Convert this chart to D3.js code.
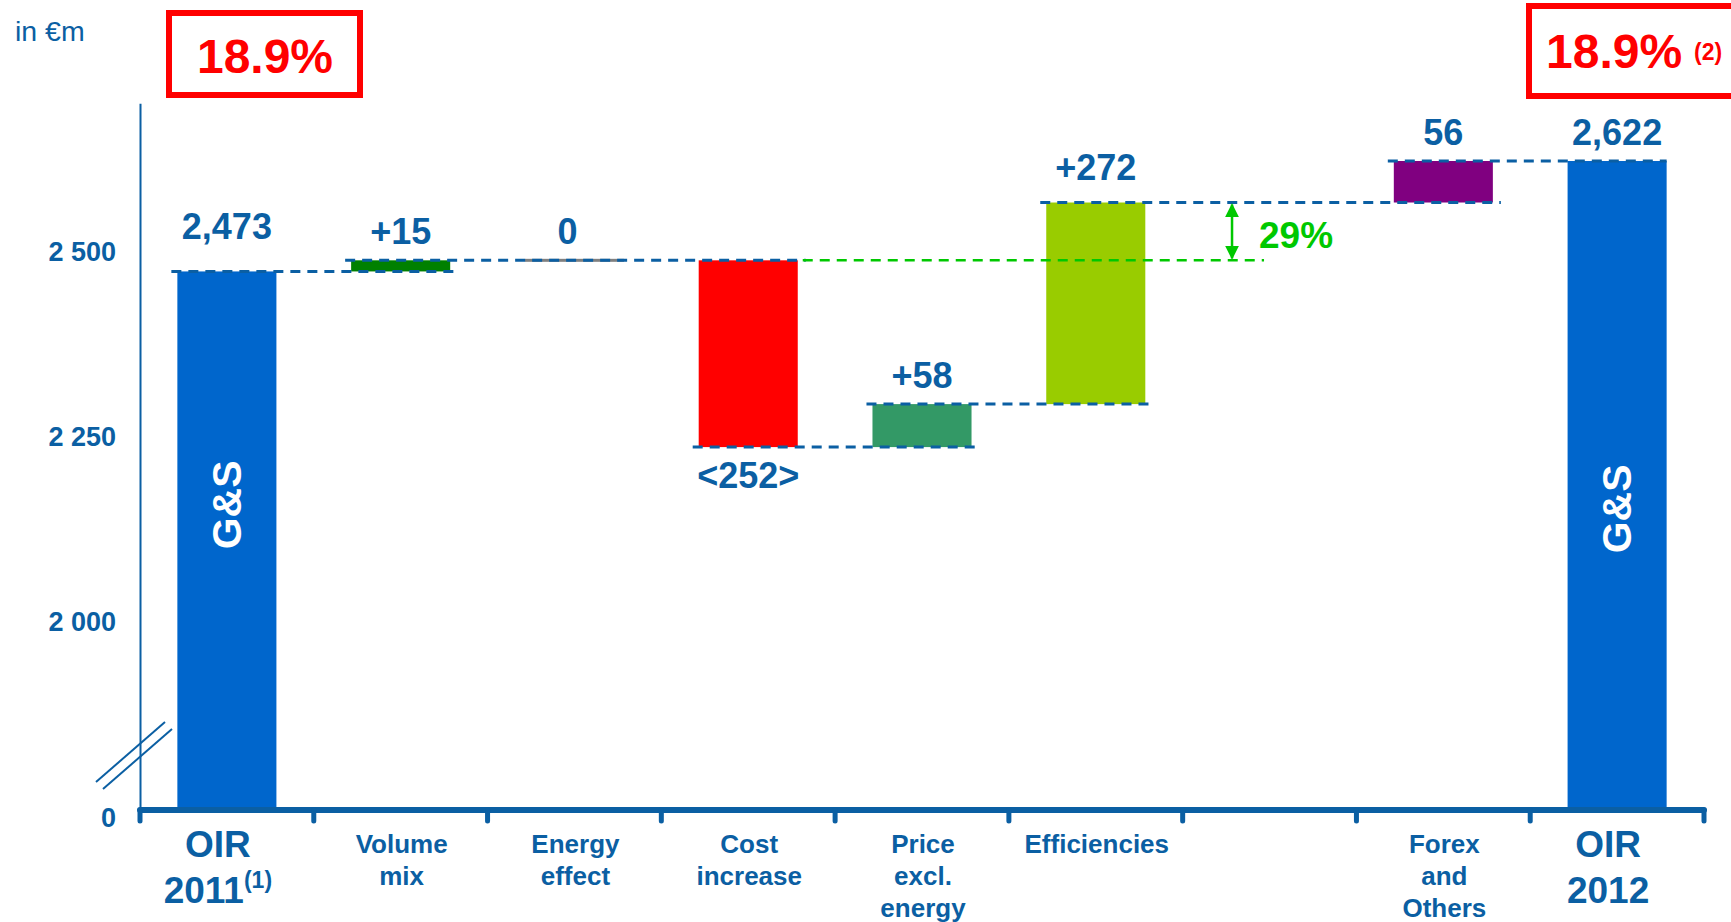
<!DOCTYPE html>
<html><head><meta charset="utf-8">
<script src="https://cdn.jsdelivr.net/npm/d3@7"></script>
<style>
body{margin:0;background:#fff;}
text{font-family:"Liberation Sans",Arial,Helvetica,sans-serif;}
</style>
</head><body>
<svg id="c" width="1731" height="922"></svg>
<script>
// ---------- data ----------
const categories = ["OIR 2011","Volume mix","Energy effect","Cost increase","Price excl. energy","Efficiencies","blank","Forex and Others","OIR 2012"];
const categoryLines = [["OIR","2011"],["Volume","mix"],["Energy","effect"],["Cost","increase"],["Price","excl.","energy"],["Efficiencies"],[],["Forex","and","Others"],["OIR","2012"]];
const barKinds = ["total","delta","delta","delta","delta","delta","blank","delta","total"];
const values = [2473, 15, 0, -252, 58, 272, null, 56, 2622];
const valueLabels = ["2,473","+15","0","<252>","+58","+272","","56","2,622"];
const totalBarText = "G&S";
const yTickValues = [0, 2000, 2250, 2500];
const yTickLabels = ["0","2 000","2 250","2 500"];
const unitLabel = "in €m";
const marginLeft = "18.9%";
const marginRight = "18.9%";
const marginRightNote = "(2)";
const firstNote = "(1)";
const efficiencyShare = "29%";

// ---------- styles ----------
const barColors = ["#0066CC","#008000","#808080","#FF0000","#339966","#99CC00",null,"#800080","#0066CC"];
const BLUE = "#0B5FA3";
const RED = "#FF0000";
const GREEN = "#00C800";

const svg = d3.select("#c");

// scales
const x = d3.scaleBand().domain(categories).range([140, 1704]).paddingInner(0.43).paddingOuter(0.215);
const bw = x.bandwidth();
const step = x.step();
const y = d3.scaleLinear().domain([0, 2000, 2700]).range([810, 622, 103.2]);

// waterfall
let cum = 0;
const bars = categories.map((c, i) => {
  const k = barKinds[i];
  if (k === "total") { cum = values[i]; return {c, i, k, lo: 0, hi: values[i], end: values[i]}; }
  if (k === "delta") { const s = cum; cum = cum + values[i]; return {c, i, k, lo: Math.min(s, cum), hi: Math.max(s, cum), start: s, end: cum}; }
  return {c, i, k};
});
const real = bars.filter(b => b.k !== "blank");

// bars
svg.append("g").selectAll("rect").data(real).join("rect")
  .attr("x", d => x(d.c))
  .attr("width", bw)
  .attr("y", d => d.hi === d.lo ? y(d.hi) - 1.5 : y(d.hi))
  .attr("height", d => d.hi === d.lo ? 3 : y(d.lo) - y(d.hi))
  .attr("fill", d => barColors[d.i]);

// G&S text on totals
const gsY = y(2158);
svg.append("g").selectAll("text").data(real.filter(d => d.k === "total")).join("text")
  .attr("transform", d => `translate(${x(d.c) + bw/2},${gsY + (d.i === 0 ? 0 : 4)}) rotate(-90)`)
  .attr("text-anchor", "middle").attr("dominant-baseline", "central")
  .attr("fill", "#fff").attr("font-weight", "bold").attr("font-size", 41)
  .text(totalBarText);

// connectors (merge consecutive same level)
const conns = [];
for (let a = 0; a < real.length - 1; a++) {
  const b = real[a], n = real[a + 1];
  const x1 = x(b.c) - 6;
  const x2 = x(n.c) + bw + (a + 1 === real.length - 1 ? 0 : 8);
  const last = conns[conns.length - 1];
  if (last && last.v === b.end) { last.x2 = x2; } else { conns.push({v: b.end, x1, x2}); }
}
svg.append("g").selectAll("line").data(conns).join("line")
  .attr("x1", d => d.x1).attr("x2", d => d.x2)
  .attr("y1", d => y(d.v)).attr("y2", d => y(d.v))
  .attr("stroke", BLUE).attr("stroke-width", 3).attr("stroke-dasharray", "10,7");

// green reference line and arrow
const ref = bars[3].start;     // level before cost increase
const effTop = bars[5].end;
const arrowX = x("blank") + 12;
svg.append("line")
  .attr("x1", x("Cost increase") + bw + 5).attr("x2", arrowX + 32)
  .attr("y1", y(ref)).attr("y2", y(ref))
  .attr("stroke", GREEN).attr("stroke-width", 2.5).attr("stroke-dasharray", "10,7");
const defs = svg.append("defs");
defs.append("marker").attr("id", "ah").attr("viewBox", "0 0 10 10").attr("refX", 9).attr("refY", 5)
  .attr("markerWidth", 5.5).attr("markerHeight", 5.5).attr("orient", "auto-start-reverse")
  .attr("markerUnits", "strokeWidth")
  .append("path").attr("d", "M0,0 L10,5 L0,10 Z").attr("fill", GREEN);
svg.append("line")
  .attr("x1", arrowX).attr("x2", arrowX)
  .attr("y1", y(effTop) + 2).attr("y2", y(ref) - 2)
  .attr("stroke", GREEN).attr("stroke-width", 2.5)
  .attr("marker-start", "url(#ah)").attr("marker-end", "url(#ah)");
svg.append("text").attr("x", arrowX + 27).attr("y", (y(effTop) + y(ref)) / 2 + 17)
  .attr("fill", GREEN).attr("font-weight", "bold").attr("font-size", 37).text(efficiencyShare);

// value labels
const labelDy = {0: -32, 5: -23};
svg.append("g").selectAll("text").data(real).join("text")
  .attr("x", d => x(d.c) + bw/2 + (d.i === 2 ? -7 : 0))
  .attr("y", d => (d.k === "delta" && values[d.i] < 0) ? y(d.lo) + 41 : y(d.hi) + (labelDy[d.i] !== undefined ? labelDy[d.i] : -16))
  .attr("text-anchor", "middle").attr("fill", BLUE).attr("font-weight", "bold").attr("font-size", 36)
  .text(d => valueLabels[d.i]);

// y axis
const yAxis = d3.axisLeft(y).tickValues(yTickValues).tickFormat((d, i) => yTickLabels[i]).tickSize(0).tickPadding(24);
const gy = svg.append("g").attr("transform", "translate(140,0)").call(yAxis);
gy.select(".domain").attr("stroke", BLUE).attr("stroke-width", 2);
gy.selectAll(".tick text").attr("fill", BLUE).attr("font-weight", "bold").attr("font-size", 27)
  .attr("font-family", '"Liberation Sans",Arial,sans-serif')
  .attr("dy", d => d === 0 ? "0.6em" : "0.32em");

// axis break
const brk = svg.append("g").attr("stroke", BLUE).attr("stroke-width", 2);
[[0, 0], [7, 7]].forEach(([dx, dy]) => {
  brk.append("line").attr("x1", 96 + dx).attr("y1", y(0) - 28 + dy).attr("x2", 165 + dx).attr("y2", y(0) - 88 + dy);
});

// x axis
const bounds = categories.map(c => x(c) - (step - bw) / 2).concat([x(categories[categories.length - 1]) + bw + (step - bw) / 2]);
const gx = svg.append("g").attr("stroke", BLUE).attr("stroke-linecap", "round");
gx.append("line").attr("x1", bounds[0]).attr("x2", bounds[bounds.length - 1]).attr("y1", y(0)).attr("y2", y(0)).attr("stroke-width", 6);
gx.selectAll("line.t").data(bounds).join("line").attr("class", "t")
  .attr("x1", d => d).attr("x2", d => d).attr("y1", y(0)).attr("y2", y(0) + 11).attr("stroke-width", 5);

// category labels
categories.forEach((c, i) => {
  const lines = categoryLines[i];
  if (!lines.length) return;
  const big = barKinds[i] === "total";
  const cx = x(c) + bw/2 + (big ? -9 : 1);
  const t = svg.append("text")
    .attr("x", cx).attr("y", big ? 857 : 853)
    .attr("text-anchor", "middle").attr("fill", BLUE).attr("font-weight", "bold").attr("font-size", big ? 37 : 26);
  lines.forEach((l, k) => {
    t.append("tspan").attr("x", cx).attr("dy", k === 0 ? 0 : (big ? 46 : 32)).text(l);
    if (i === 0 && k === 1) {
      t.append("tspan").attr("font-size", 23).attr("dy", -15).text(firstNote);
    }
  });
});

// unit label
svg.append("text").attr("x", 15).attr("y", 41).attr("fill", BLUE).attr("font-size", 28.5).text(unitLabel);

// margin boxes
svg.append("rect").attr("x", 169).attr("y", 13).attr("width", 191).attr("height", 82)
  .attr("fill", "none").attr("stroke", RED).attr("stroke-width", 6);
svg.append("text").attr("x", 265).attr("y", 73).attr("text-anchor", "middle")
  .attr("fill", RED).attr("font-weight", "bold").attr("font-size", 48).text(marginLeft);
svg.append("rect").attr("x", 1529).attr("y", 6).attr("width", 300).attr("height", 90)
  .attr("fill", "none").attr("stroke", RED).attr("stroke-width", 6);
svg.append("text").attr("x", 1546).attr("y", 68)
  .attr("fill", RED).attr("font-weight", "bold").attr("font-size", 48).text(marginRight);
svg.append("text").attr("x", 1694).attr("y", 60)
  .attr("fill", RED).attr("font-weight", "bold").attr("font-size", 23).text(marginRightNote);
</script>
</body></html>
